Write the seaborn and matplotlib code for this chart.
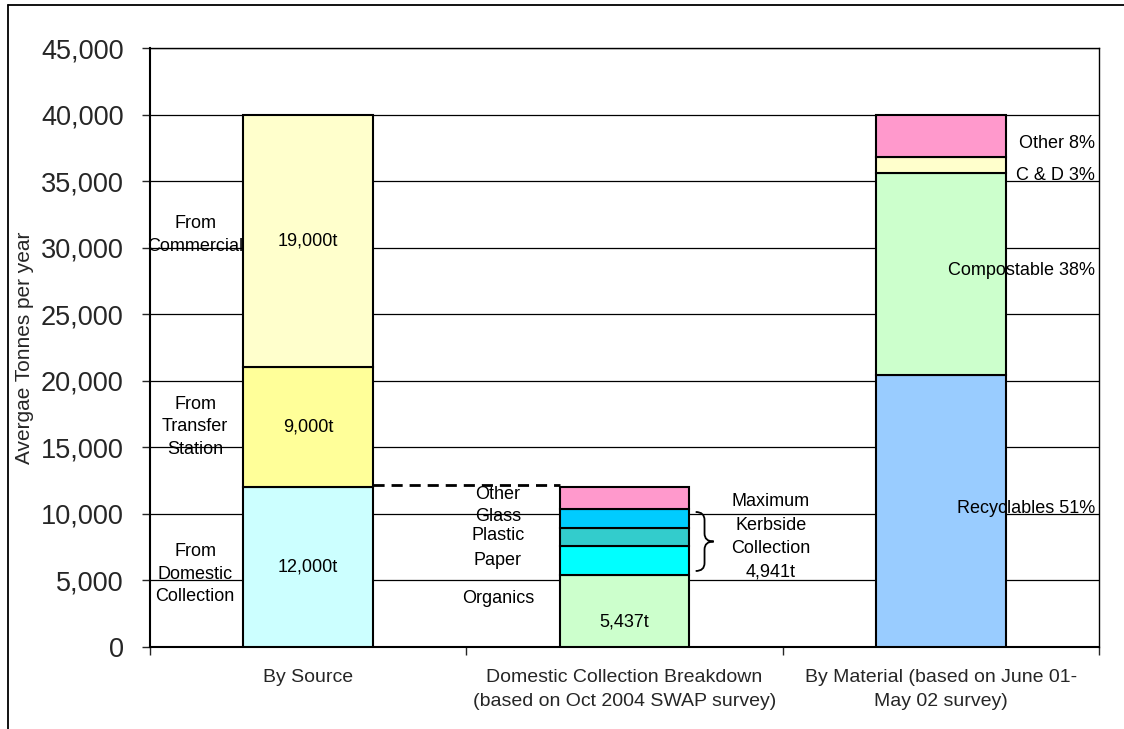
import matplotlib
matplotlib.use("Agg")
import matplotlib.pyplot as plt
import seaborn as sns
from matplotlib.patches import PathPatch
from matplotlib.path import Path
from matplotlib.lines import Line2D
from matplotlib.ticker import FuncFormatter, FixedLocator

# ---- data -------------------------------------------------------------
categories = [
    "By Source",
    "Domestic Collection Breakdown\n(based on Oct 2004 SWAP survey)",
    "By Material (based on June 01-\nMay 02 survey)",
]

source_labels = ["From\nDomestic\nCollection", "From\nTransfer\nStation", "From\nCommercial"]
source_values = [12000, 9000, 19000]
source_colors = ["#CCFFFF", "#FFFF99", "#FFFFCC"]

domestic_labels = ["Organics", "Paper", "Plastic", "Glass", "Other"]
domestic_values = [5437, 2130, 1370, 1441, 1622]
domestic_colors = ["#CCFFCC", "#00FFFF", "#33CCCC", "#00CCFF", "#FF99CC"]
kerbside_total = 4941

material_labels = ["Recyclables", "Compostable", "C & D", "Other"]
material_pct = [51, 38, 3, 8]
material_total = 40000
material_colors = ["#99CCFF", "#CCFFCC", "#FFFFCC", "#FF99CC"]
material_values = [p * material_total / 100 for p in material_pct]

# ---- style ------------------------------------------------------------
sns.set_style("white")
plt.rcParams["font.family"] = ["Liberation Sans", "DejaVu Sans"]

fig = plt.figure(figsize=(11.24, 7.29), dpi=100)
ax = fig.add_axes([150 / 1124, 1 - 647 / 729, 949 / 1124, 599 / 729])

BAR_W = 0.41


def stack(cat, values, colors):
    base = 0
    for v, c in zip(values, colors):
        sns.barplot(x=[cat], y=[v], order=categories, bottom=base, color=c,
                    saturation=1, width=BAR_W, edgecolor="black", linewidth=1.5,
                    errorbar=None, ax=ax, zorder=3)
        base += v
    return base


src_total = stack(categories[0], source_values, source_colors)
dom_total = stack(categories[1], domestic_values, domestic_colors)
mat_total = stack(categories[2], material_values, material_colors)

# ---- axes -------------------------------------------------------------
ax.set_xlim(-0.5, 2.5)
ax.set_ylim(0, 45000)
ax.set_yticks(range(0, 45001, 5000))
ax.yaxis.set_major_formatter(FuncFormatter(lambda v, _: f"{v:,.0f}"))
ax.set_axisbelow(True)
ax.yaxis.grid(True, color="black", linewidth=0.9)
ax.xaxis.grid(False)

ax.set_xticks([0, 1, 2])
ax.set_xticklabels(categories, fontsize=14, linespacing=1.5)
ax.xaxis.set_minor_locator(FixedLocator([-0.5, 0.5, 1.5, 2.5]))
ax.tick_params(axis="x", which="major", length=0, pad=16, bottom=True)
ax.tick_params(axis="x", which="minor", length=6, width=1, direction="out", bottom=True)
ax.tick_params(axis="y", which="major", length=6, width=1, direction="out",
               left=True, labelsize=19.5, pad=13)
ax.set_xlabel("")
ax.set_ylabel("Avergae Tonnes per year", fontsize=15)
ax.yaxis.set_label_coords(-0.122, 0.5)

for side in ["left", "bottom"]:
    ax.spines[side].set_linewidth(1.5)
    ax.spines[side].set_color("black")
for side in ["top", "right"]:
    ax.spines[side].set_linewidth(1.0)
    ax.spines[side].set_color("black")

TXT = dict(fontsize=13, color="black", zorder=5, linespacing=1.4)

# ---- By Source annotations -------------------------------------------
base = 0
for lab, v, ly in zip(source_labels, source_values, [5484, 16530, 30950]):
    ax.text(-0.357, ly, lab, ha="center", va="center", **TXT)
    ax.text(0, base + v / 2, f"{v:,}t", ha="center", va="center", **TXT)
    base += v

# connector from the domestic segment to its breakdown
ax.plot([BAR_W / 2, 1 - BAR_W / 2], [source_values[0] + 200] * 2,
        color="black", linewidth=2, linestyle=(0, (4, 2.5)), zorder=4)

# ---- Domestic breakdown annotations ----------------------------------
for lab, ly in zip(domestic_labels, [3681, 6461, 8414, 9790, 11494]):
    ax.text(0.6, ly, lab, ha="center", va="center", **TXT)
ax.text(1.0, 1878, f"{domestic_values[0]:,}t", ha="center", va="center", **TXT)

# brace grouping the kerbside materials
x0, xm, x1 = 1.225, 1.253, 1.282
yt, yb = 10142, 5710
ym = (yt + yb) / 2
r = 600
verts = [(x0, yt), (xm, yt), (xm, yt - r),
         (xm, ym + r),
         (xm, ym), (x1, ym),
         (xm, ym), (xm, ym - r),
         (xm, yb + r),
         (xm, yb), (x0, yb)]
codes = [Path.MOVETO, Path.CURVE3, Path.CURVE3,
         Path.LINETO,
         Path.CURVE3, Path.CURVE3,
         Path.CURVE3, Path.CURVE3,
         Path.LINETO,
         Path.CURVE3, Path.CURVE3]
ax.add_patch(PathPatch(Path(verts, codes), fill=False, edgecolor="black",
                       linewidth=1.3, zorder=5, clip_on=False))
ax.text(1.462, 8264, f"Maximum\nKerbside\nCollection\n{kerbside_total:,}t",
        ha="center", va="center", **{**TXT, "linespacing": 1.5})

# ---- By Material annotations -----------------------------------------
for lab, pct, ly in zip(material_labels, material_pct, [10370, 28250, 35400, 37800]):
    ax.text(2.487, ly, f"{lab} {pct}%", ha="right", va="center", **TXT)

# outer frame
fig.add_artist(Line2D([8 / 1124, 8 / 1124], [0, 1 - 5 / 729],
                      transform=fig.transFigure, color="black", linewidth=1.3))
fig.add_artist(Line2D([8 / 1124, 1], [1 - 5 / 729, 1 - 5 / 729],
                      transform=fig.transFigure, color="black", linewidth=1.3))

fig.savefig("out.png", dpi=100)
